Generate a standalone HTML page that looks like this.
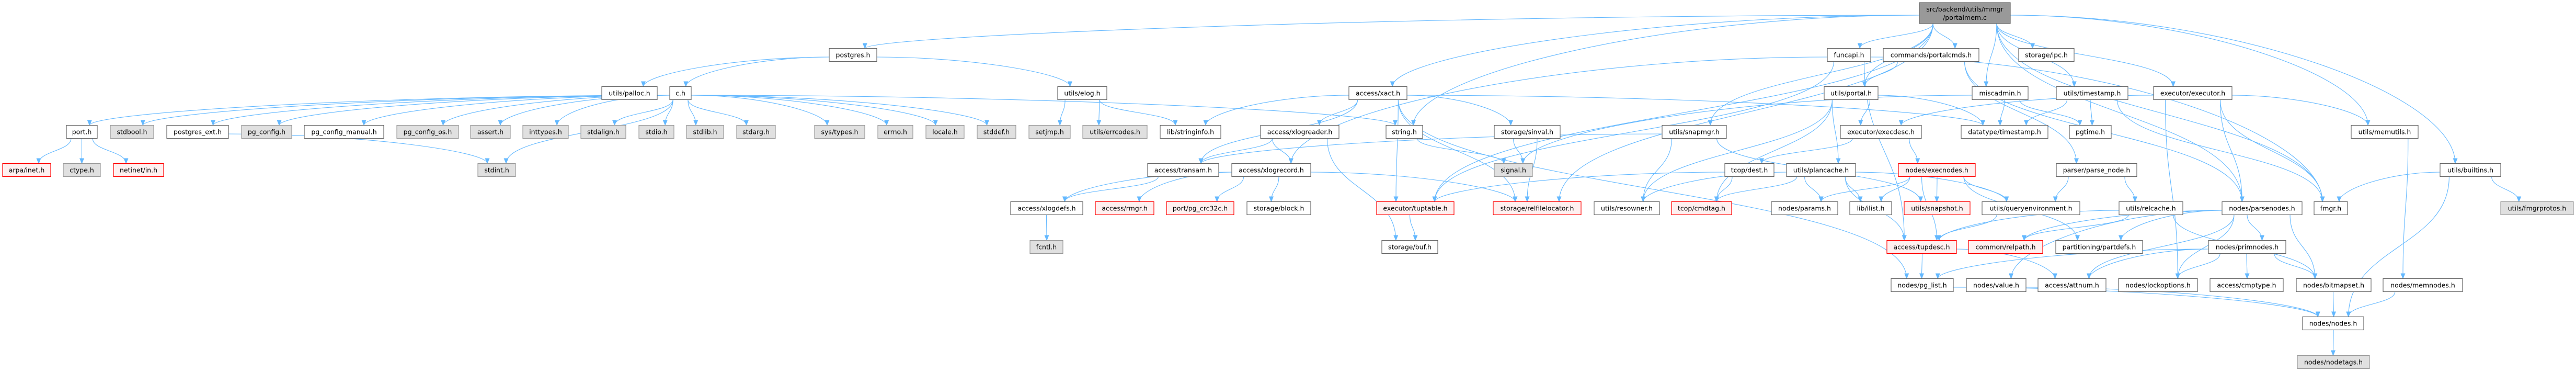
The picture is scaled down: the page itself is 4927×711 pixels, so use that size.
<!DOCTYPE html>
<html><head><meta charset="utf-8">
<style>
html,body{margin:0;padding:0;background:#fff;}
svg{display:block;}
text{font-family:"DejaVu Sans","Liberation Sans",sans-serif;font-size:12.5px;fill:#000;text-anchor:middle;}
.w{fill:#fff;stroke:#666;stroke-width:1.2;}
.g{fill:#e0e0e0;stroke:#999;stroke-width:1.2;}
.r{fill:#fff0f0;stroke:#f00;stroke-width:1.2;}
.t{fill:#999;stroke:#666;stroke-width:1.2;}
.e{fill:none;stroke:#63b8ff;stroke-width:1.1;}
</style></head>
<body>
<svg id="s" width="4927" height="711" viewBox="0 0 4927 711" xmlns="http://www.w3.org/2000/svg">
<defs><marker id="ah" markerWidth="11" markerHeight="9" refX="10" refY="4.5" orient="auto" markerUnits="userSpaceOnUse"><polygon points="0,0 11,4.5 0,9" fill="#63b8ff"/></marker></defs>
<g id="edgelayer"></g>
<g id="nodelayer">
<rect id="top" class="t" x="3671" y="5" width="174" height="40"/><text x="3758" y="22">src/backend/utils/mmgr</text><text x="3758" y="38">/portalmem.c</text>

<rect id="postgres" class="w" x="1586" y="92.5" width="91" height="25"/><text x="1631.5" y="109.5">postgres.h</text>
<rect id="funcapi" class="w" x="3495" y="92.5" width="83" height="25"/><text x="3536.5" y="109.5">funcapi.h</text>
<rect id="portalcmds" class="w" x="3602" y="92.5" width="183" height="25"/><text x="3693.5" y="109.5">commands/portalcmds.h</text>
<rect id="ipc" class="w" x="3861" y="92.5" width="106" height="25"/><text x="3914" y="109.5">storage/ipc.h</text>

<rect id="palloc" class="w" x="1151" y="165.5" width="106" height="25"/><text x="1204" y="182.5">utils/palloc.h</text>
<rect id="ch" class="w" x="1281" y="165.5" width="41" height="25"/><text x="1301.5" y="182.5">c.h</text>
<rect id="elog" class="w" x="2023" y="165.5" width="94" height="25"/><text x="2070" y="182.5">utils/elog.h</text>
<rect id="xact" class="w" x="2580" y="165.5" width="111" height="25"/><text x="2635.5" y="182.5">access/xact.h</text>
<rect id="portal" class="w" x="3489" y="165.5" width="103" height="25"/><text x="3540.5" y="182.5">utils/portal.h</text>
<rect id="miscadmin" class="w" x="3772" y="165.5" width="107" height="25"/><text x="3825.5" y="182.5">miscadmin.h</text>
<rect id="timestamp" class="w" x="3933" y="165.5" width="137" height="25"/><text x="4001.5" y="182.5">utils/timestamp.h</text>
<rect id="executor" class="w" x="4119" y="165.5" width="150" height="25"/><text x="4194" y="182.5">executor/executor.h</text>

<rect id="port" class="w" x="127" y="239.5" width="59" height="25"/><text x="156.5" y="256.5">port.h</text>
<rect id="stdbool" class="g" x="211" y="239.5" width="83" height="25"/><text x="252.5" y="256.5">stdbool.h</text>
<rect id="postgres_ext" class="w" x="319" y="239.5" width="118" height="25"/><text x="378" y="256.5">postgres_ext.h</text>
<rect id="pg_config" class="g" x="462" y="239.5" width="96" height="25"/><text x="510" y="256.5">pg_config.h</text>
<rect id="pg_config_manual" class="w" x="582" y="239.5" width="152" height="25"/><text x="658" y="256.5">pg_config_manual.h</text>
<rect id="pg_config_os" class="g" x="759" y="239.5" width="118" height="25"/><text x="818" y="256.5">pg_config_os.h</text>
<rect id="assert" class="g" x="900" y="239.5" width="76" height="25"/><text x="938" y="256.5">assert.h</text>
<rect id="inttypes" class="g" x="1000" y="239.5" width="87" height="25"/><text x="1043.5" y="256.5">inttypes.h</text>
<rect id="stdalign" class="g" x="1111" y="239.5" width="86" height="25"/><text x="1154" y="256.5">stdalign.h</text>
<rect id="stdio" class="g" x="1222" y="239.5" width="67" height="25"/><text x="1255.5" y="256.5">stdio.h</text>
<rect id="stdlib" class="g" x="1313" y="239.5" width="71" height="25"/><text x="1348.5" y="256.5">stdlib.h</text>
<rect id="stdarg" class="g" x="1409" y="239.5" width="74" height="25"/><text x="1446" y="256.5">stdarg.h</text>
<rect id="systypes" class="g" x="1558" y="239.5" width="96" height="25"/><text x="1606" y="256.5">sys/types.h</text>
<rect id="errno" class="g" x="1679" y="239.5" width="67" height="25"/><text x="1712.5" y="256.5">errno.h</text>
<rect id="locale" class="g" x="1771" y="239.5" width="73" height="25"/><text x="1807.5" y="256.5">locale.h</text>
<rect id="stddef" class="g" x="1869" y="239.5" width="74" height="25"/><text x="1906" y="256.5">stddef.h</text>
<rect id="setjmp" class="g" x="1968" y="239.5" width="79" height="25"/><text x="2007.5" y="256.5">setjmp.h</text>
<rect id="errcodes" class="g" x="2071" y="239.5" width="123" height="25"/><text x="2132.5" y="256.5">utils/errcodes.h</text>
<rect id="stringinfo" class="w" x="2219" y="239.5" width="116" height="25"/><text x="2277" y="256.5">lib/stringinfo.h</text>
<rect id="xlogreader" class="w" x="2411" y="239.5" width="150" height="25"/><text x="2486" y="256.5">access/xlogreader.h</text>
<rect id="string" class="w" x="2651" y="239.5" width="70" height="25"/><text x="2686" y="256.5">string.h</text>
<rect id="sinval" class="w" x="2858" y="239.5" width="126" height="25"/><text x="2921" y="256.5">storage/sinval.h</text>
<rect id="snapmgr" class="w" x="3179" y="239.5" width="123" height="25"/><text x="3240.5" y="256.5">utils/snapmgr.h</text>
<rect id="execdesc" class="w" x="3520" y="239.5" width="155" height="25"/><text x="3597.5" y="256.5">executor/execdesc.h</text>
<rect id="dtimestamp" class="w" x="3751" y="239.5" width="166" height="25"/><text x="3834" y="256.5">datatype/timestamp.h</text>
<rect id="pgtime" class="w" x="3958" y="239.5" width="80" height="25"/><text x="3998" y="256.5">pgtime.h</text>
<rect id="memutils" class="w" x="4497" y="239.5" width="128" height="25"/><text x="4561" y="256.5">utils/memutils.h</text>

<rect id="arpa" class="r" x="5" y="312.5" width="92" height="25"/><text x="51" y="329.5">arpa/inet.h</text>
<rect id="ctype" class="g" x="121" y="312.5" width="71" height="25"/><text x="156.5" y="329.5">ctype.h</text>
<rect id="netinet" class="r" x="217" y="312.5" width="96" height="25"/><text x="265" y="329.5">netinet/in.h</text>
<rect id="stdint" class="g" x="914" y="312.5" width="72" height="25"/><text x="950" y="329.5">stdint.h</text>
<rect id="transam" class="w" x="2195" y="312.5" width="136" height="25"/><text x="2263" y="329.5">access/transam.h</text>
<rect id="xlogrecord" class="w" x="2356" y="312.5" width="151" height="25"/><text x="2431.5" y="329.5">access/xlogrecord.h</text>
<rect id="signal" class="g" x="2858" y="312.5" width="73" height="25"/><text x="2894.5" y="329.5">signal.h</text>
<rect id="dest" class="w" x="3299" y="312.5" width="94" height="25"/><text x="3346" y="329.5">tcop/dest.h</text>
<rect id="plancache" class="w" x="3417" y="312.5" width="132" height="25"/><text x="3483" y="329.5">utils/plancache.h</text>
<rect id="execnodes" class="r" x="3631" y="312.5" width="147" height="25"/><text x="3704.5" y="329.5">nodes/execnodes.h</text>
<rect id="parse_node" class="w" x="3933" y="312.5" width="154" height="25"/><text x="4010" y="329.5">parser/parse_node.h</text>
<rect id="builtins" class="w" x="4667" y="312.5" width="116" height="25"/><text x="4725" y="329.5">utils/builtins.h</text>

<rect id="xlogdefs" class="w" x="1933" y="385.5" width="138" height="25"/><text x="2002" y="402.5">access/xlogdefs.h</text>
<rect id="rmgr" class="r" x="2095" y="385.5" width="112" height="25"/><text x="2151" y="402.5">access/rmgr.h</text>
<rect id="crc" class="r" x="2231" y="385.5" width="129" height="25"/><text x="2295.5" y="402.5">port/pg_crc32c.h</text>
<rect id="block" class="w" x="2385" y="385.5" width="122" height="25"/><text x="2446" y="402.5">storage/block.h</text>
<rect id="tuptable" class="r" x="2633" y="385.5" width="148" height="25"/><text x="2707" y="402.5">executor/tuptable.h</text>
<rect id="relfilelocator" class="r" x="2856" y="385.5" width="168" height="25"/><text x="2940" y="402.5">storage/relfilelocator.h</text>
<rect id="resowner" class="w" x="3049" y="385.5" width="125" height="25"/><text x="3111.5" y="402.5">utils/resowner.h</text>
<rect id="cmdtag" class="r" x="3197" y="385.5" width="115" height="25"/><text x="3254.5" y="402.5">tcop/cmdtag.h</text>
<rect id="params" class="w" x="3388" y="385.5" width="127" height="25"/><text x="3451.5" y="402.5">nodes/params.h</text>
<rect id="ilist" class="w" x="3538" y="385.5" width="80" height="25"/><text x="3578" y="402.5">lib/ilist.h</text>
<rect id="snapshot" class="r" x="3642" y="385.5" width="126" height="25"/><text x="3705" y="402.5">utils/snapshot.h</text>
<rect id="queryenv" class="w" x="3791" y="385.5" width="187" height="25"/><text x="3884.5" y="402.5">utils/queryenvironment.h</text>
<rect id="relcache" class="w" x="4053" y="385.5" width="122" height="25"/><text x="4114" y="402.5">utils/relcache.h</text>
<rect id="parsenodes" class="w" x="4250" y="385.5" width="153" height="25"/><text x="4326.5" y="402.5">nodes/parsenodes.h</text>
<rect id="fmgr" class="w" x="4426" y="385.5" width="64" height="25"/><text x="4458" y="402.5">fmgr.h</text>
<rect id="fmgrprotos" class="g" x="4783" y="385.5" width="139" height="25"/><text x="4852.5" y="402.5">utils/fmgrprotos.h</text>

<rect id="fcntl" class="g" x="1970" y="459.5" width="63" height="25"/><text x="2001.5" y="476.5">fcntl.h</text>
<rect id="buf" class="w" x="2643" y="459.5" width="107" height="25"/><text x="2696.5" y="476.5">storage/buf.h</text>
<rect id="tupdesc" class="r" x="3609" y="459.5" width="133" height="25"/><text x="3675.5" y="476.5">access/tupdesc.h</text>
<rect id="relpath" class="r" x="3765" y="459.5" width="142" height="25"/><text x="3836" y="476.5">common/relpath.h</text>
<rect id="partdefs" class="w" x="3932" y="459.5" width="166" height="25"/><text x="4015" y="476.5">partitioning/partdefs.h</text>
<rect id="primnodes" class="w" x="4224" y="459.5" width="148" height="25"/><text x="4298" y="476.5">nodes/primnodes.h</text>

<rect id="pg_list" class="w" x="3617" y="532.5" width="119" height="25"/><text x="3676.5" y="549.5">nodes/pg_list.h</text>
<rect id="value" class="w" x="3761" y="532.5" width="114" height="25"/><text x="3818" y="549.5">nodes/value.h</text>
<rect id="attnum" class="w" x="3898" y="532.5" width="130" height="25"/><text x="3963" y="549.5">access/attnum.h</text>
<rect id="lockoptions" class="w" x="4052" y="532.5" width="151" height="25"/><text x="4127.5" y="549.5">nodes/lockoptions.h</text>
<rect id="cmptype" class="w" x="4227" y="532.5" width="140" height="25"/><text x="4297" y="549.5">access/cmptype.h</text>
<rect id="bitmapset" class="w" x="4392" y="532.5" width="143" height="25"/><text x="4463.5" y="549.5">nodes/bitmapset.h</text>
<rect id="memnodes" class="w" x="4558" y="532.5" width="152" height="25"/><text x="4634" y="549.5">nodes/memnodes.h</text>

<rect id="nodesh" class="w" x="4404" y="605.5" width="117" height="25"/><text x="4462.5" y="622.5">nodes/nodes.h</text>
<rect id="nodetags" class="g" x="4394" y="679.5" width="138" height="25"/><text x="4463" y="696.5">nodes/nodetags.h</text>
</g>
</svg>
<script>
var E="top>postgres top>funcapi top>portalcmds top>ipc top>miscadmin top>timestamp top>xact top>executor top>memutils top>builtins top>snapmgr top>fmgr top>parsenodes top>portal top>relfilelocator top>tuptable top>string "+
"postgres>palloc postgres>ch postgres>elog "+
"ch>port ch>stdbool ch>postgres_ext ch>pg_config ch>pg_config_manual ch>pg_config_os ch>assert ch>inttypes ch>stdalign ch>stdio ch>stdlib ch>stdarg ch>systypes ch>errno ch>locale ch>stddef ch>stdint ch>string "+
"port>arpa port>ctype port>netinet postgres_ext>stdint "+
"elog>setjmp elog>errcodes elog>stringinfo "+
"xact>transam xact>xlogreader xact>sinval xact>relfilelocator xact>pg_list xact>stringinfo xact>dtimestamp xact>tuptable "+
"xlogreader>transam xlogreader>xlogrecord xlogreader>buf "+
"xlogrecord>xlogdefs xlogrecord>rmgr xlogrecord>crc xlogrecord>block xlogrecord>relfilelocator "+
"transam>xlogdefs xlogdefs>fcntl string>signal sinval>signal sinval>relfilelocator "+
"snapmgr>resowner snapmgr>transam snapmgr>snapshot "+
"funcapi>tuptable funcapi>tupdesc funcapi>fmgr funcapi>xlogrecord "+
"portalcmds>portal portalcmds>parse_node portalcmds>parsenodes "+
"portal>execdesc portal>dtimestamp portal>plancache portal>resowner portal>cmdtag "+
"miscadmin>dtimestamp miscadmin>pgtime miscadmin>signal "+
"timestamp>dtimestamp timestamp>pgtime timestamp>fmgr "+
"executor>execdesc executor>parsenodes executor>fmgr executor>memutils executor>lockoptions "+
"execdesc>dest execdesc>execnodes dest>cmdtag dest>tuptable "+
"plancache>params plancache>ilist plancache>queryenv plancache>cmdtag plancache>tupdesc plancache>resowner "+
"execnodes>params execnodes>ilist execnodes>snapshot execnodes>queryenv execnodes>partdefs execnodes>tupdesc "+
"parse_node>queryenv parse_node>relcache queryenv>tupdesc "+
"relcache>tupdesc relcache>relpath relcache>bitmapset "+
"parsenodes>primnodes parsenodes>bitmapset parsenodes>lockoptions parsenodes>relpath parsenodes>partdefs parsenodes>value parsenodes>attnum "+
"primnodes>cmptype primnodes>bitmapset primnodes>lockoptions primnodes>pg_list primnodes>attnum "+
"tupdesc>pg_list tupdesc>attnum pg_list>nodesh value>nodesh bitmapset>nodesh memnodes>nodesh "+
"builtins>fmgr builtins>fmgrprotos builtins>nodesh memutils>memnodes nodesh>nodetags tuptable>buf";
function R(id){var r=document.getElementById(id);var x=+r.getAttribute('x'),y=+r.getAttribute('y'),w=+r.getAttribute('width'),h=+r.getAttribute('height');return {x1:x,x2:x+w,y1:y,y2:y+h,cx:x+w/2,cy:y+h/2,w:w};}
function cl(v,a,b){return Math.max(a,Math.min(b,v));}
var g=document.getElementById('edgelayer'),out='';
E.split(' ').forEach(function(p){if(!p)return;var q=p.split('>');var a=R(q[0]),b=R(q[1]);var d;
if(Math.abs(a.cy-b.cy)<5){ if(b.cx<a.cx){d='M'+a.x1+','+a.cy+' L'+b.x2+','+b.cy;} else {d='M'+a.x2+','+a.cy+' L'+b.x1+','+b.cy;} }
else {var dy=b.y1-a.y2;var ex=cl(a.cx,b.x1+b.w*0.25,b.x2-b.w*0.25),ey=b.y1;
 if(b.x2<a.x1-3*dy){var sx=a.x1,sy=a.cy+4;d='M'+sx+','+sy+' C'+(sx-(sx-ex)*0.5)+','+sy+' '+ex+','+(ey-dy*0.5)+' '+ex+','+ey;}
 else if(b.x1>a.x2+3*dy){var sx=a.x2,sy=a.cy+4;d='M'+sx+','+sy+' C'+(sx+(ex-sx)*0.5)+','+sy+' '+ex+','+(ey-dy*0.5)+' '+ex+','+ey;}
 else {var sx=cl(b.cx,a.x1+a.w*0.15,a.x2-a.w*0.15),sy=a.y2;var m=dy*0.5;
 d='M'+sx+','+sy+' C'+sx+','+(sy+m)+' '+ex+','+(ey-m)+' '+ex+','+ey;}}
out+='<path class="e" d="'+d+'" marker-end="url(#ah)"/>';});
g.innerHTML=out;
</script>
</body></html>
